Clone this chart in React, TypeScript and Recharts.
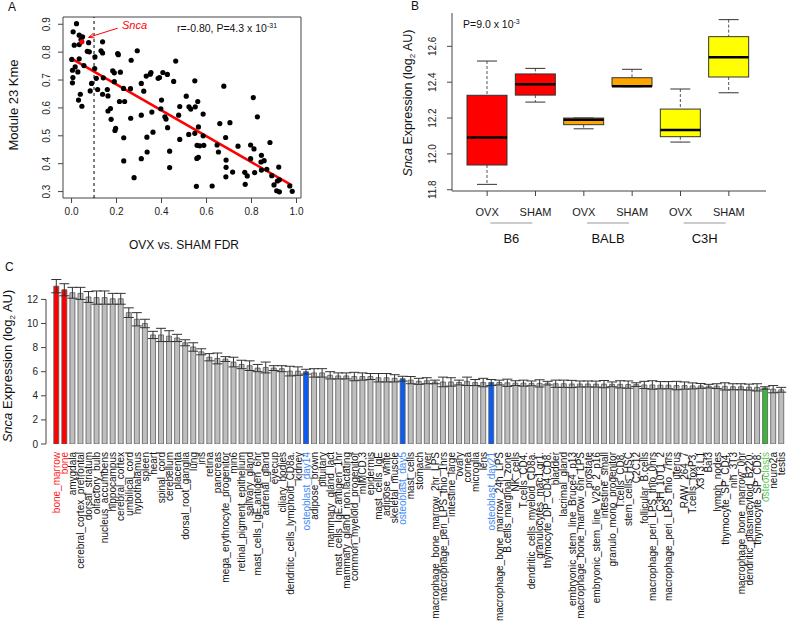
import React from 'react';
import {
  ScatterChart,
  Scatter,
  ComposedChart,
  BarChart,
  Bar,
  Cell,
  ErrorBar,
  XAxis,
  YAxis,
  ReferenceLine,
  ReferenceArea,
} from 'recharts';

const FONT = '"Liberation Sans", Arial, Helvetica, sans-serif';
const AXIS = '#444';

// ---------- A: module 23 kME vs OVX/SHAM FDR ----------
const fdr = [
  0.022, 0.007, 0.034, 0.049, 0.042, 0.012, 0.034, 0.076, 0.138, 0.131,
  0.07, 0.079, 0.138, 0.205, 0.208, 0.292, 0.104, 0.001, 0.034, 0.055,
  0.265, 0.463, 0.004, 0.028, 0.103, 0.016, 0.183, 0.19, 0.217, 0.332,
  0.35, 0.353, 0.406, 0.426, 0.385, 0.391, 0.006, 0.11, 0.141, 0.004,
  0.089, 0.19, 0.31, 0.454, 0.548, 0.677, 0.116, 0.083, 0.159, 0.231,
  0.262, 0.321, 0.138, 0.162, 0.039, 0.51, 0.808, 0.031, 0.213, 0.236,
  0.4, 0.561, 0.046, 0.162, 0.173, 0.357, 0.397, 0.481, 0.522, 0.53,
  0.55, 0.585, 0.415, 0.42, 0.476, 0.31, 0.176, 0.263, 0.826, 0.659,
  0.704, 0.564, 0.427, 0.196, 0.193, 0.362, 0.521, 0.548, 0.585, 0.481,
  0.685, 0.335, 0.232, 0.558, 0.57, 0.588, 0.647, 0.74, 0.796, 0.811,
  0.882, 0.336, 0.436, 0.653, 0.564, 0.557, 0.687, 0.796, 0.844, 0.856,
  0.842, 0.232, 0.31, 0.436, 0.687, 0.844, 0.868, 0.814, 0.716, 0.77,
  0.781, 0.686, 0.278, 0.89, 0.921, 0.9, 0.772, 0.915, 0.924, 0.555,
  0.625, 0.97, 0.912, 0.924, 0.981,
];
const kme = [
  0.902, 0.873, 0.861, 0.855, 0.845, 0.825, 0.827, 0.834, 0.837, 0.805,
  0.803, 0.801, 0.797, 0.795, 0.791, 0.805, 0.783, 0.774, 0.776, 0.752,
  0.771, 0.768, 0.735, 0.729, 0.741, 0.747, 0.733, 0.726, 0.728, 0.714,
  0.721, 0.727, 0.727, 0.72, 0.706, 0.709, 0.709, 0.706, 0.708, 0.69,
  0.688, 0.694, 0.688, 0.695, 0.697, 0.678, 0.666, 0.661, 0.666, 0.67,
  0.669, 0.66, 0.649, 0.643, 0.649, 0.642, 0.637, 0.628, 0.623, 0.623,
  0.628, 0.623, 0.606, 0.589, 0.598, 0.585, 0.597, 0.605, 0.604, 0.596,
  0.604, 0.578, 0.568, 0.56, 0.574, 0.574, 0.559, 0.563, 0.568, 0.544,
  0.547, 0.532, 0.529, 0.527, 0.519, 0.513, 0.505, 0.509, 0.5, 0.487,
  0.494, 0.495, 0.493, 0.466, 0.464, 0.466, 0.467, 0.463, 0.467, 0.453,
  0.476, 0.442, 0.445, 0.442, 0.423, 0.419, 0.413, 0.418, 0.43, 0.411,
  0.406, 0.41, 0.418, 0.386, 0.387, 0.377, 0.38, 0.368, 0.37, 0.369,
  0.356, 0.353, 0.35, 0.357, 0.388, 0.324, 0.326, 0.338, 0.342, 0.319,
  0.32, 0.32, 0.303, 0.299, 0.301,
];
const sncaFdr = 0.046;
const sncaKme = 0.837;
const fitFdr = [0, 0.98];
const fitKme = [0.777, 0.322];
const arrowFdr = [0.205, 0.076];
const arrowKme = [0.886, 0.853];
const fdrTicks = [0, 0.2, 0.4, 0.6, 0.8, 1.0];
const kmeTicks = [0.3, 0.4, 0.5, 0.6, 0.7, 0.8, 0.9];

// ---------- B: Snca expression by strain / treatment ----------
const treatments = ['OVX', 'SHAM', 'OVX', 'SHAM', 'OVX', 'SHAM'];
const strains = ['B6', 'B6', 'BALB', 'BALB', 'C3H', 'C3H'];
const whiskerLow = [11.83, 12.289, 12.14, 12.375, 12.066, 12.341];
const quart1 = [11.938, 12.328, 12.163, 12.377, 12.096, 12.429];
const medians = [12.092, 12.388, 12.19, 12.378, 12.133, 12.539];
const quart3 = [12.327, 12.446, 12.2, 12.425, 12.25, 12.654];
const whiskerHigh = [12.518, 12.477, 12.2, 12.472, 12.362, 12.749];
const exprTicks = [11.8, 12.0, 12.2, 12.4, 12.6];
const strainColors: Record<string, string> = {
  B6: '#ff0000',
  BALB: '#ffa500',
  C3H: '#ffff00',
};

// ---------- C: Snca across the tissue atlas ----------
const tissues = [
  'bone_marrow', 'bone', 'amygdala', 'cerebral_cortex_prefrontal', 'dorsal_striatum',
  'olfactory_bulb', 'nucleus_accumbens', 'hippocampus', 'cerebral_cortex', 'umbilical_cord',
  'hypothalamus', 'spleen', 'heart', 'spinal_cord', 'cerebellum',
  'placenta', 'dorsal_root_ganglia', 'lung', 'iris', 'retina',
  'pancreas', 'mega_erythrocyte_progenitor', 'min6', 'retinal_pigment_epithelium', 'salivary_gland',
  'mast_cells_IgE.antigen_6hr', 'adrenal_gland', 'eyecup', 'ciliary_bodies', 'dendritic_cells_lymphoid_CD8a.',
  'kidney', 'osteoblast_day14', 'adipose_brown', 'pituitary', 'mammary_gland_lact',
  'mast_cells_IgE.antigen_1hr', 'mammary_gland_non.lactating', 'common_myeloid_progenitor', 'mIMCD.3', 'epidermis',
  'mast_cells_IgE', 'adipose_white', 'skeletal_muscle', 'osteoblast_day5', 'mast_cells',
  'stomach', 'liver', 'macrophage_bone_marrow_2hr_LPS', 'macrophage_peri_LPS_thio_1hrs', 'intestine_large',
  'ovary', 'cornea', 'microglia', 'lens', 'osteoblast_day21',
  'macrophage_bone_marrow_24h_LPS', 'B.cells_marginal_zone', 'NK_cells', 'T.cells_CD4.', 'dendritic_cells_myeloid_CD8a.',
  'granulocytes_mac1.gr1.', 'thymocyte_DP_CD4.CD8.', 'bladder', 'lacrimal_gland', 'embryonic_stem_line_Bruce4_p13',
  'macrophage_bone_marrow_6hr_LPS', 'prostate', 'embryonic_stem_line_V26_2_p16', 'intestine_small', 'granulo_mono_progenitor',
  'T.cells_CD8.', 'stem_cells_HSC', 'C2C12', 'follicular_B.cells', 'macrophage_peri_LPS_thio_0hrs',
  'C3H_10T1_2', 'macrophage_peri_LPS_thio_7hrs', 'uterus', 'RAW_264_7', 'T.cells_foxP3.',
  'X3T3.L1', 'Baf3', 'lymph_nodes', 'thymocyte_SP_CD4.', 'nih_3T3',
  'macrophage_bone_marrow_0hr', 'dendritic_plasmacytoid_B220.', 'thymocyte_SP_CD8.', 'osteoclasts', 'neuro2a',
  'testis',
];
const tissueExpr = [
  13.1, 12.8, 12.55, 12.5, 12.2, 12.15, 12.15, 12.05, 12.05, 10.9,
  10.35, 10.0, 9.05, 9.05, 8.95, 8.8, 8.4, 8.05, 7.65, 7.2,
  7.1, 7.05, 6.8, 6.6, 6.5, 6.3, 6.35, 6.3, 6.25, 6.05,
  6.05, 6.0, 5.9, 5.9, 5.7, 5.65, 5.65, 5.6, 5.6, 5.6,
  5.5, 5.5, 5.45, 5.42, 5.3, 5.2, 5.25, 5.15, 5.15, 5.15,
  5.1, 5.2, 5.1, 5.1, 5.1, 5.1, 5.08, 5.05, 5.05, 5.03,
  5.03, 5.05, 5.0, 5.0, 4.98, 4.98, 4.98, 4.97, 4.97, 4.95,
  4.95, 4.93, 4.93, 4.9, 4.9, 4.88, 4.88, 4.85, 4.85, 4.82,
  4.82, 4.8, 4.8, 4.78, 4.75, 4.75, 4.72, 4.7, 4.65, 4.55,
  4.5,
];
const tissueSem = [
  0.55, 0.5, 0.45, 0.5, 0.45, 0.55, 0.55, 0.45, 0.45, 0.4,
  0.55, 0.35, 0.3, 0.55, 0.45, 0.3, 0.25, 0.35, 0.25, 0.3,
  0.45, 0.2, 0.4, 0.35, 0.4, 0.3, 0.45, 0.2, 0.25, 0.4,
  0.35, 0.2, 0.35, 0.35, 0.3, 0.25, 0.25, 0.35, 0.3, 0.25,
  0.35, 0.35, 0.3, 0.2, 0.3, 0.25, 0.25, 0.15, 0.4, 0.35,
  0.2, 0.35, 0.25, 0.35, 0.25, 0.2, 0.3, 0.2, 0.25, 0.2,
  0.3, 0.15, 0.3, 0.3, 0.3, 0.25, 0.25, 0.25, 0.3, 0.2,
  0.3, 0.3, 0.15, 0.3, 0.35, 0.3, 0.3, 0.35, 0.3, 0.25,
  0.2, 0.15, 0.2, 0.3, 0.25, 0.25, 0.25, 0.3, 0.1, 0.3,
  0.2,
];
const boneTissues = ['bone_marrow', 'bone'];
const osteoblastTissues = ['osteoblast_day14', 'osteoblast_day5', 'osteoblast_day21'];
const osteoclastTissues = ['osteoclasts'];
const atlasTicks = [0, 2, 4, 6, 8, 10, 12];

function barColor(t: string) {
  if (boneTissues.includes(t)) return '#ff0000';
  if (osteoblastTissues.includes(t)) return '#0d5cf2';
  if (osteoclastTissues.includes(t)) return '#3eb43e';
  return '#bebebe';
}

function labelColor(t: string) {
  if (boneTissues.includes(t)) return '#ff1a1a';
  if (osteoblastTissues.includes(t)) return '#3f8af5';
  if (osteoclastTissues.includes(t)) return '#5ccc5c';
  return '#111';
}

// y tick labels turned on their side, like R's las=0
function SideTick(props: any) {
  const { x, y, payload, shift } = props;
  const bx = x + shift;
  return (
    <text
      x={bx}
      y={y}
      transform={`rotate(-90, ${bx}, ${y})`}
      textAnchor="middle"
      fontSize={10}
      fontFamily={FONT}
      fill="#222"
    >
      {Number(payload.value).toFixed(1)}
    </text>
  );
}

function Dot(props: any) {
  return <circle cx={props.cx} cy={props.cy} r={2.6} fill={props.fill} />;
}

function Arrow(props: any) {
  const { x1, y1, x2, y2 } = props;
  const a = Math.atan2(y2 - y1, x2 - x1);
  const len = 6;
  const p1 = [x2 - len * Math.cos(a - 0.4), y2 - len * Math.sin(a - 0.4)];
  const p2 = [x2 - len * Math.cos(a + 0.4), y2 - len * Math.sin(a + 0.4)];
  return (
    <g>
      <line x1={x1} y1={y1} x2={x2} y2={y2} stroke="#ff0000" strokeWidth={1} />
      <polyline
        points={`${p1[0]},${p1[1]} ${x2},${y2} ${p2[0]},${p2[1]}`}
        fill="none"
        stroke="#ff0000"
        strokeWidth={1}
      />
    </g>
  );
}

function PanelA() {
  const pts = fdr.map((x, i) => ({ x, y: kme[i] }));
  return (
    <ScatterChart width={320} height={260} margin={{ top: 17, right: 19, bottom: 32, left: 0 }}>
      <XAxis
        type="number"
        dataKey="x"
        domain={[-0.038, 1.02]}
        ticks={fdrTicks}
        tickFormatter={(v) => Number(v).toFixed(1)}
        allowDataOverflow
        axisLine={false}
        tickSize={5}
        tickMargin={5}
        tickLine={{ stroke: AXIS }}
        tick={{ fontSize: 10, fill: '#222', fontFamily: FONT }}
        height={30}
      />
      <YAxis
        type="number"
        dataKey="y"
        domain={[0.277, 0.926]}
        ticks={kmeTicks}
        allowDataOverflow
        width={63}
        axisLine={false}
        tickSize={5}
        tickLine={{ stroke: AXIS }}
        tick={(p: any) => <SideTick {...p} shift={-6} />}
      />
      <ReferenceArea
        x1={-0.038}
        x2={1.02}
        y1={0.277}
        y2={0.926}
        fill="none"
        stroke={AXIS}
        strokeWidth={1}
        ifOverflow="visible"
      />
      <ReferenceLine x={0.1} stroke="#000" strokeDasharray="3 3" />
      <Scatter data={pts} fill="#000" shape={Dot} isAnimationActive={false} />
      <ReferenceLine
        segment={[
          { x: fitFdr[0], y: fitKme[0] },
          { x: fitFdr[1], y: fitKme[1] },
        ]}
        stroke="#ff0000"
        strokeWidth={2.5}
      />
      <Scatter data={[{ x: sncaFdr, y: sncaKme }]} fill="#ff0000" shape={Dot} isAnimationActive={false} />
      <ReferenceLine
        segment={[
          { x: arrowFdr[0], y: arrowKme[0] },
          { x: arrowFdr[1], y: arrowKme[1] },
        ]}
        shape={Arrow}
      />
    </ScatterChart>
  );
}

function BoxShape(props: any) {
  const { x, y, width, height, payload } = props;
  const top = Math.min(y, y + height);
  const h = Math.abs(height);
  const perUnit = h / (payload.q3 - payload.q1);
  const py = (v: number) => top + (payload.q3 - v) * perUnit;
  const cx = x + width / 2;
  const cap = width / 4;
  return (
    <g>
      <line x1={cx} x2={cx} y1={py(payload.hi)} y2={top} stroke="#555" strokeDasharray="3 2" />
      <line x1={cx} x2={cx} y1={top + h} y2={py(payload.lo)} stroke="#555" strokeDasharray="3 2" />
      <line x1={cx - cap} x2={cx + cap} y1={py(payload.hi)} y2={py(payload.hi)} stroke="#333" />
      <line x1={cx - cap} x2={cx + cap} y1={py(payload.lo)} y2={py(payload.lo)} stroke="#333" />
      <rect x={x} y={top} width={width} height={h} fill={strainColors[payload.strain]} stroke="#333" strokeWidth={1} />
      <line x1={x} x2={x + width} y1={py(payload.med)} y2={py(payload.med)} stroke="#000" strokeWidth={2.5} />
    </g>
  );
}

function StrainTick(props: any) {
  const { x, y, payload } = props;
  return (
    <g>
      <line x1={x - 21} x2={x + 21} y1={y + 4} y2={y + 4} stroke="#999" strokeWidth={1.2} />
      <text x={x} y={y + 24} textAnchor="middle" fontSize={13} fontFamily={FONT} fill="#111">
        {payload.value}
      </text>
    </g>
  );
}

function PanelB() {
  const rows = treatments.map((t, i) => ({
    key: `${strains[i]}-${t}`,
    strain: strains[i],
    lo: whiskerLow[i],
    q1: quart1[i],
    med: medians[i],
    q3: quart3[i],
    hi: whiskerHigh[i],
  }));
  return (
    <ComposedChart width={407} height={260} data={rows} margin={{ top: 13, right: 21, bottom: 6, left: 0 }}>
      <XAxis
        dataKey="key"
        interval={0}
        padding={{ left: 11, right: 13 }}
        height={26}
        tickFormatter={(v) => String(v).split('-')[1]}
        axisLine={{ stroke: AXIS }}
        tickSize={5}
        tickMargin={12}
        tickLine={{ stroke: AXIS }}
        tick={{ fontSize: 11, fill: '#222', fontFamily: FONT }}
      />
      <XAxis
        xAxisId="strain"
        dataKey="strain"
        allowDuplicatedCategory={false}
        interval={0}
        padding={{ left: 11, right: 13 }}
        height={37}
        axisLine={false}
        tickLine={false}
        tickSize={0}
        tickMargin={2}
        tick={StrainTick}
      />
      <XAxis xAxisId="top" orientation="top" dataKey="key" height={0} tick={false} tickLine={false} axisLine={{ stroke: AXIS }} />
      <YAxis
        domain={[11.793, 12.786]}
        ticks={exprTicks}
        allowDataOverflow
        width={72}
        axisLine={{ stroke: AXIS }}
        tickSize={5}
        tickLine={{ stroke: AXIS }}
        tick={(p: any) => <SideTick {...p} shift={-9} />}
      />
      <YAxis
        yAxisId="right"
        orientation="right"
        width={0}
        domain={[11.793, 12.786]}
        allowDataOverflow
        tick={false}
        tickLine={false}
        axisLine={{ stroke: AXIS }}
      />
      <Bar dataKey={(d: any) => [d.q1, d.q3]} barSize={40} shape={BoxShape} isAnimationActive={false} />
    </ComposedChart>
  );
}

function TissueTick(props: any) {
  const { x, y, payload } = props;
  const bx = x + 3.5;
  return (
    <text
      x={bx}
      y={y}
      transform={`rotate(-90, ${bx}, ${y})`}
      textAnchor="end"
      fontSize={10}
      fontFamily={FONT}
      fill={labelColor(payload.value)}
    >
      {payload.value}
    </text>
  );
}

function PanelC() {
  const rows = tissues.map((t, i) => ({ tissue: t, expr: tissueExpr[i], sem: tissueSem[i] }));
  return (
    <BarChart
      width={787}
      height={365}
      data={rows}
      margin={{ top: 20.5, right: 0, bottom: 0, left: 0 }}
      barCategoryGap="16%"
    >
      <XAxis
        dataKey="tissue"
        interval={0}
        height={177}
        padding={{ left: 6.5, right: 1.5 }}
        axisLine={false}
        tickLine={false}
        tickSize={0}
        tickMargin={8}
        tick={TissueTick}
      />
      <XAxis xAxisId="num" type="number" domain={[0, 1]} hide />
      <YAxis
        domain={[0, 13.9]}
        ticks={atlasTicks}
        allowDataOverflow
        width={46}
        axisLine={false}
        tickSize={5}
        tickMargin={3}
        tickLine={{ stroke: AXIS }}
        tick={{ fontSize: 10, fill: '#222', fontFamily: FONT }}
      />
      <ReferenceLine
        xAxisId="num"
        segment={[
          { x: 0, y: 0 },
          { x: 0, y: 12 },
        ]}
        stroke={AXIS}
      />
      <Bar dataKey="expr" stroke="#5a5a5a" strokeWidth={0.8} isAnimationActive={false}>
        {rows.map((r) => (
          <Cell key={r.tissue} fill={barColor(r.tissue)} />
        ))}
        <ErrorBar dataKey="sem" width={5} stroke="#333" strokeWidth={1} direction="y" />
      </Bar>
    </BarChart>
  );
}

export default function App() {
  const t = { fontFamily: FONT, fill: '#111' };
  return (
    <div style={{ position: 'absolute', left: 0, top: 0, width: 787, height: 621, background: '#fff' }}>
      <div style={{ position: 'absolute', left: 0, top: 0 }}>
        <PanelA />
      </div>
      <div style={{ position: 'absolute', left: 380, top: 0 }}>
        <PanelB />
      </div>
      <div style={{ position: 'absolute', left: 0, top: 256 }}>
        <PanelC />
      </div>
      <svg
        width={787}
        height={621}
        style={{ position: 'absolute', left: 0, top: 0, pointerEvents: 'none' }}
      >
        <text x={8} y={11} fontSize={12} {...t}>A</text>
        <text x={411} y={10} fontSize={12} {...t}>B</text>
        <text x={5} y={271} fontSize={12} {...t}>C</text>

        <text x={18} y={105} fontSize={13} textAnchor="middle" transform="rotate(-90, 18, 105)" {...t}>
          Module 23 Kme
        </text>
        <text x={184} y={249} fontSize={12} textAnchor="middle" {...t}>
          OVX vs. SHAM FDR
        </text>
        <text x={177} y={32} fontSize={10.5} {...t}>
          r=-0.80, P=4.3 x 10
          <tspan fontSize={7} dy={-4}>-31</tspan>
        </text>
        <text x={122} y={29} fontSize={11} fontStyle="italic" fontFamily={FONT} fill="#ff0000">
          Snca
        </text>

        <text x={463} y={28} fontSize={10.5} {...t}>
          P=9.0 x 10
          <tspan fontSize={7} dy={-4}>-3</tspan>
        </text>
        <text x={412} y={103} fontSize={12.5} textAnchor="middle" transform="rotate(-90, 412, 103)" {...t}>
          <tspan fontStyle="italic">Snca</tspan> Expression (log
          <tspan fontSize={8} dy={3}>2</tspan>
          <tspan dy={-3}> AU)</tspan>
        </text>

        <text x={12} y={366} fontSize={13} textAnchor="middle" transform="rotate(-90, 12, 366)" {...t}>
          <tspan fontStyle="italic">Snca</tspan> Expression (log
          <tspan fontSize={8} dy={3}>2</tspan>
          <tspan dy={-3}> AU)</tspan>
        </text>
      </svg>
    </div>
  );
}
